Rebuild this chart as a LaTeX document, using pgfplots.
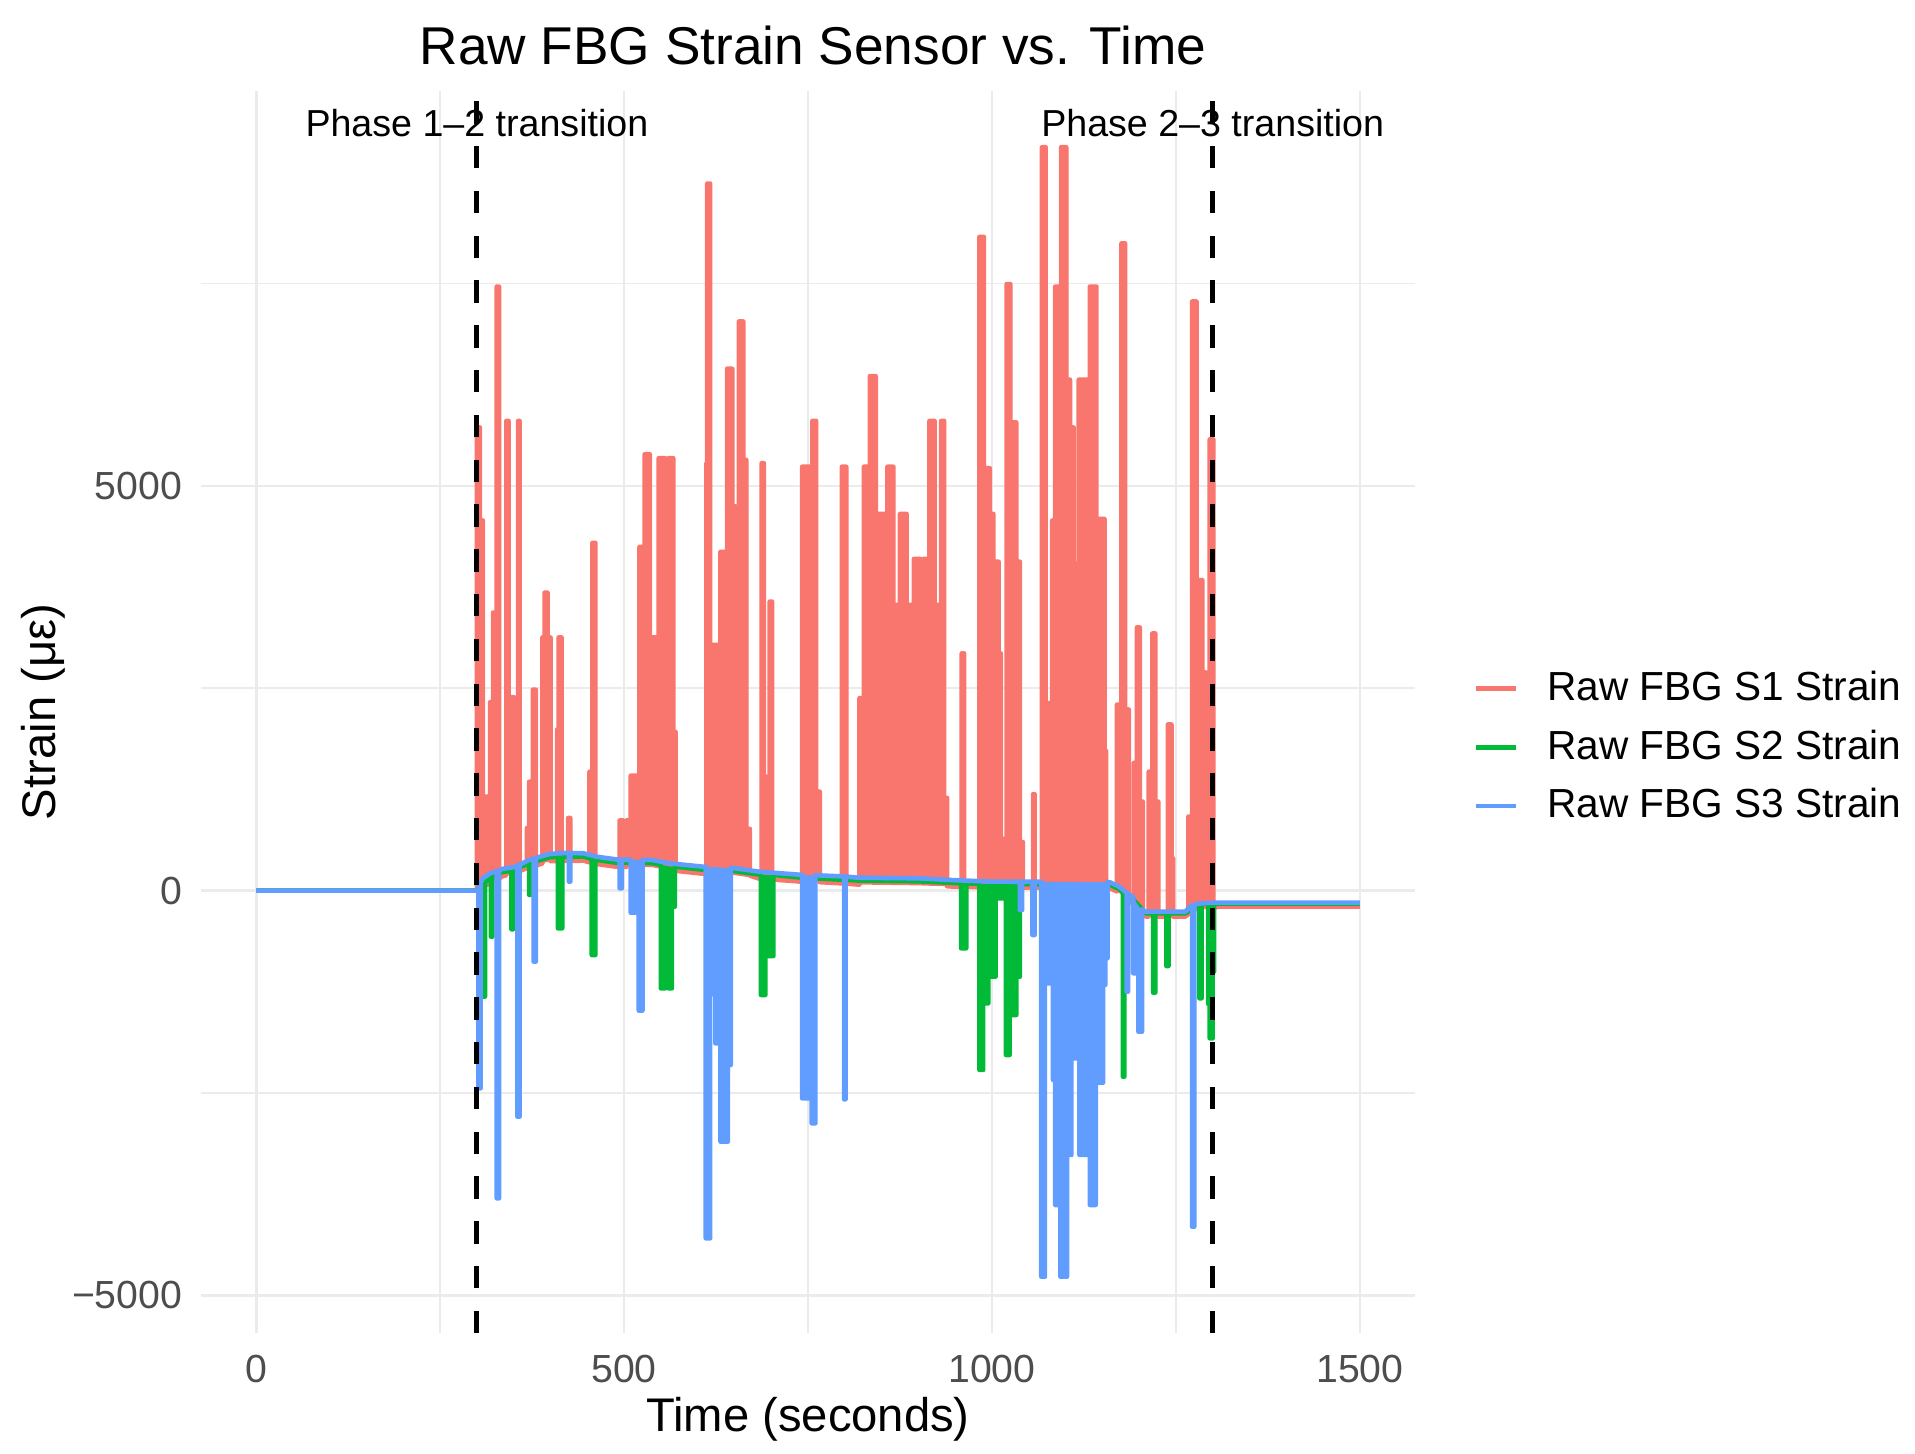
\documentclass[border=0pt]{standalone}
\usepackage{pgfplots}
\pgfplotsset{compat=1.18}
\usepackage{fontspec}
\setmainfont{Liberation Sans}
\definecolor{cSone}{HTML}{F8766D}
\definecolor{cStwo}{HTML}{00BA38}
\definecolor{cSthree}{HTML}{619CFF}
\definecolor{gridc}{HTML}{EBEBEB}
\definecolor{tickc}{HTML}{4D4D4D}
% ---------- S1 data ----------
\def\Rline{(0,0) (300,0)
(300,5722) (304,5722) (304,4573) (308,4573) (308,1161) (314,1161) (314,70)
(318,100) (318,2329) (322,2329) (322,3435) (323,3435) (323,2329) (327,2329) (327,7462) (330,7462) (330,150)
(335,180)
(340,190) (340,5802) (343,5802) (343,2390) (350,2390) (350,200)
(356,230) (356,5802) (358,5802) (358,240)
(368,280) (368,774) (371,774) (371,1345) (376,1345) (376,2483) (380,2483) (380,310)
(389,335) (389,3128) (392,3128) (392,3681) (396,3681) (396,3128) (400,3128) (400,365)
(409,367) (409,1990) (411,1990) (411,3128) (415,3128) (415,368)
(424,369) (424,897) (427,897) (427,369)
(445,370)
(453,350) (453,1468) (457,1468) (457,4296) (461,4296) (461,333)
(462,330)
(490,295)
(494,294) (494,866) (499,866) (499,294)
(503,293) (503,866) (509,866) (509,1419) (521,1419) (521,4247) (528,4247) (528,5390) (535,5390) (535,3128) (547,3128) (547,5341) (556,5341) (556,4204) (560,4204) (560,5341) (567,5341) (567,1960) (570,1960) (570,245)
(606,210)
(612,206) (612,5280) (613,5280) (613,8734) (617,8734) (617,3036) (627,3036) (627,1400) (631,1400) (631,4185) (640,4185) (640,6447) (647,6447) (647,4745) (652,4745) (652,2483) (656,2483) (656,7031) (662,7031) (662,5322) (666,5322) (666,762) (671,762) (671,185)
(683,150)
(687,147) (687,5280) (690,5280) (690,1410) (693,1410) (693,145)
(698,141) (698,3571) (701,3571) (701,139)
(742,110) (742,5236) (756,5236) (756,5802) (761,5802) (761,1222) (766,1222) (766,105)
(796,90) (796,5236) (802,5236) (802,87)
(818,75)
(820,75) (820,2378) (826,2378) (826,5236) (834,5236) (834,6355) (842,6355) (842,4653) (854,4653) (854,4099) (858,4099) (858,5236) (866,5236) (866,3528) (875,3528) (875,4653) (884,4653) (884,3528) (894,3528) (894,4099) (902,4099) (902,1235) (907,1235) (907,4099) (915,4099) (915,5802) (922,5802) (922,3528) (931,3528) (931,5802) (935,5802) (935,1145) (939,1145) (939,55)
(947,50)
(959,48) (959,2931) (962,2931) (962,47)
(983,44) (983,8076) (989,8076) (989,5218) (997,5218) (997,4653) (1002,4653) (1002,4063) (1009,4063) (1009,2931) (1012,2931) (1012,639) (1020,639) (1020,7493) (1025,7493) (1025,5784) (1033,5784) (1033,4063) (1038,4063) (1038,600) (1042,600) (1042,38)
(1056,37) (1056,1192) (1058,1192) (1058,37)
(1068,36) (1068,9183) (1073,9183) (1073,2317) (1082,2317) (1082,4573) (1086,4573) (1086,7462) (1094,7462) (1094,9183) (1101,9183) (1101,6312) (1106,6312) (1106,5722) (1111,5722) (1111,4038) (1118,4038) (1118,6312) (1133,6312) (1133,7462) (1142,7462) (1142,4591) (1153,4591) (1153,1726) (1155,1726) (1155,30)
(1160,30)
(1170,-10) (1170,2298) (1176,2298) (1176,7996) (1181,7996) (1181,2237) (1186,2237) (1186,-90)
(1191,-160)
(1193,-180) (1193,1579) (1197,1579) (1197,3251) (1201,3251) (1201,1100) (1205,1100) (1205,-280)
(1209,-320)
(1213,-320) (1213,1468) (1218,1468) (1218,3177) (1222,3177) (1222,1100) (1226,1100) (1226,-320)
(1239,-320) (1239,2052) (1244,2052) (1244,400) (1246,400) (1246,-320)
(1263,-320)
(1267,-290) (1267,915) (1272,915) (1272,7277) (1278,7277) (1278,3835) (1286,3835) (1286,2698) (1290,2698) (1290,500) (1296,500) (1296,5574) (1301,5574) (1301,-210)
(1310,-198)
(1500,-198)}
% S1 baseline, reversed (closes the filled area)
\def\Rbase{(1500,-198) (1310,-198) (1300,-210) (1281,-240) (1263,-320) (1209,-320) (1191,-160) (1173,-30) (1160,30) (1000,40) (947,50) (900,65) (818,75) (742,110) (683,150) (651,190) (606,210) (561,250) (538,290) (490,295) (462,330) (445,370) (400,365) (371,290) (350,200) (335,180) (318,100) (305,20) (300,0) (0,0)}
% ---------- S2 data ----------
\def\Gline{(0,0) (300,0) (303,40)
(306,80) (306,-568) (309,-568) (309,-1309) (311,-1309) (311,100)
(318,175) (319,178) (319,-568) (321,-568) (321,185)
(335,230)
(347,247) (347,-478) (349,-478) (349,249)
(371,340) (371,-53) (373,-53) (373,345)
(400,415)
(410,417) (410,-465) (416,-465) (416,418)
(445,420)
(456,395) (456,-795) (461,-795) (461,385)
(462,380)
(490,345)
(538,340)
(550,320) (550,-1207) (556,-1207) (556,-877) (560,-877) (560,-1207) (565,-1207) (565,-198) (569,-198) (569,297)
(606,260)
(651,240)
(683,200)
(686,198) (686,-1289) (692,-1289) (692,-807) (703,-807) (703,193)
(742,160)
(818,125)
(900,115)
(947,95)
(958,93) (958,-712) (965,-712) (965,90)
(983,85) (983,-2215) (988,-2215) (988,-1392) (995,-1392) (995,-1062) (1005,-1062) (1005,-95) (1019,-95) (1019,-2030) (1024,-2030) (1024,-1536) (1033,-1536) (1033,-1062) (1038,-1062) (1038,80)
(1160,75)
(1173,20)
(1178,-20) (1178,-2298) (1180,-2298) (1180,-40)
(1191,-100)
(1209,-280)
(1219,-280) (1219,-1260) (1222,-1260) (1222,-280)
(1237,-280) (1237,-931) (1240,-931) (1240,-280)
(1263,-280)
(1281,-170)
(1282,-168) (1282,-1330) (1285,-1330) (1285,-166)
(1294,-162) (1294,-1400) (1296,-1400) (1296,-1824) (1300,-1824) (1300,-1000) (1302,-1000) (1302,-160)
(1500,-160)}
\def\Gbase{(1500,-160) (1300,-160) (1281,-170) (1263,-280) (1209,-280) (1191,-100) (1173,20) (1160,75) (1000,80) (947,95) (900,115) (818,125) (742,160) (683,200) (651,240) (606,260) (561,300) (538,340) (490,345) (462,380) (445,420) (400,415) (371,340) (350,250) (335,230) (318,175) (308,110) (303,40) (300,0) (0,0)}
% ---------- S3 data ----------
\def\Bline{(0,0) (300,0)
(302,40) (302,-2442) (305,-2442) (305,100)
(308,150)
(318,214)
(327,240) (327,-3801) (330,-3801) (330,250)
(335,270)
(350,290)
(355,310) (355,-2792) (358,-2792) (358,320)
(371,379)
(377,395) (377,-877) (380,-877) (380,405)
(400,455)
(420,465)
(425,465) (425,111) (427,111) (427,465)
(445,461)
(462,420)
(490,385)
(494,383) (494,29) (497,29) (497,382)
(509,381) (509,-272) (520,-272) (520,-1482) (525,-1482) (525,380)
(538,379)
(561,338)
(606,297)
(611,293) (611,-4295) (617,-4295) (617,-1277) (624,-1277) (624,-1886) (631,-1886) (631,-3101) (641,-3101) (641,-2154) (645,-2154) (645,280)
(651,276)
(683,235)
(742,194) (742,-2565) (755,-2565) (755,-2874) (760,-2874) (760,190)
(799,175) (799,-2578) (801,-2578) (801,174)
(818,160)
(900,152)
(947,130)
(1000,111)
(1038,110) (1038,-239) (1041,-239) (1041,110)
(1055,110) (1055,-548) (1058,-548) (1058,110)
(1067,110) (1067,-4769) (1072,-4769) (1072,-1145) (1083,-1145) (1083,-2339) (1086,-2339) (1086,-3883) (1093,-3883) (1093,-4769) (1102,-4769) (1102,-3265) (1108,-3265) (1108,-2071) (1119,-2071) (1119,-3265) (1129,-3265) (1129,-2071) (1133,-2071) (1133,-3883) (1141,-3883) (1141,-2372) (1151,-2372) (1151,-1165) (1154,-1165) (1154,-836) (1157,-836) (1157,106)
(1160,105)
(1173,49)
(1182,-20)
(1183,-25) (1183,-1248) (1185,-1248) (1185,-35)
(1191,-74)
(1192,-85) (1192,-1021) (1199,-1021) (1199,-1742) (1204,-1742) (1204,-230)
(1209,-259)
(1263,-259)
(1270,-190)
(1272,-185) (1272,-4151) (1275,-4151) (1275,-175)
(1281,-160)
(1300,-148)
(1500,-148)}
\def\Bbase{(1500,-148) (1300,-148) (1281,-160) (1270,-190) (1263,-259) (1209,-259) (1200,-200) (1191,-74) (1182,-20) (1173,49) (1160,105) (1000,111) (947,130) (900,152) (818,160) (742,194) (683,235) (651,276) (606,297) (561,338) (538,379) (490,385) (462,420) (445,461) (420,465) (400,455) (371,379) (350,290) (335,270) (318,214) (308,150) (305,100) (302,40) (300,0) (0,0)}
\begin{document}
\begin{tikzpicture}
\useasboundingbox (0,0) rectangle (478.75pt,363.5pt);
\begin{axis}[
  at={(50.25pt,30.2pt)}, anchor=south west,
  scale only axis, width=303.5pt, height=310.6pt,
  xmin=-75, xmax=1575, ymin=-5467, ymax=9881,
  scaled ticks=false,
  xtick={0,500,1000,1500}, xticklabels={0,500,1000,1500},
  ytick={-5000,0,5000}, yticklabels={−5000,0,5000},
  minor xtick={250,750,1250}, minor ytick={-2500,2500,7500},
  grid=both,
  major grid style={draw=gridc, line width=0.67pt},
  minor grid style={draw=gridc, line width=0.4pt},
  axis line style={draw=none},
  major tick length=0pt, minor tick length=0pt,
  tick style={draw=none},
  xticklabel style={font=\fontsize{9.8}{11}\selectfont, text=tickc, anchor=north, inner sep=0pt, yshift=-5.2pt},
  yticklabel style={font=\fontsize{9.8}{11}\selectfont, text=tickc, anchor=east, inner sep=0pt, xshift=-4.5pt},
  legend style={at={(1.0485,0.533)}, anchor=north west, draw=none, fill=none, inner sep=0pt, outer sep=0pt, row sep=5.8pt, column sep=7.2pt, font=\fontsize{10.15}{12}\selectfont, nodes={inner sep=0pt}},
  legend cell align=left,
  legend image code/.code={\draw[#1] (0pt,0pt) -- (10pt,0pt);},
  every axis plot/.append style={line width=1.15pt, line join=round},
]
% S1
\edef\tmp{\noexpand\addplot[fill=cSone, draw=none, forget plot] coordinates {\Rline\space\Rbase};}\tmp
\edef\tmp{\noexpand\addplot[cSone] coordinates {\Rline};}\tmp
\addlegendentry{Raw FBG S1 Strain}
% S2
\edef\tmp{\noexpand\addplot[fill=cStwo, draw=none, forget plot] coordinates {\Gline\space\Gbase};}\tmp
\edef\tmp{\noexpand\addplot[cStwo] coordinates {\Gline};}\tmp
\addlegendentry{Raw FBG S2 Strain}
% S3
\edef\tmp{\noexpand\addplot[fill=cSthree, draw=none, forget plot] coordinates {\Bline\space\Bbase};}\tmp
\edef\tmp{\noexpand\addplot[cSthree] coordinates {\Bline};}\tmp
\addlegendentry{Raw FBG S3 Strain}
% phase lines
\addplot[black, line width=1.25pt, dash pattern=on 5.6pt off 5.6pt, forget plot] coordinates {(300,-5467) (300,9881)};
\addplot[black, line width=1.25pt, dash pattern=on 5.6pt off 5.6pt, forget plot] coordinates {(1300,-5467) (1300,9881)};
\node[anchor=base, font=\fontsize{9.4}{11}\selectfont] at (axis cs:300,9312) {Phase 1–2 transition};
\node[anchor=base, font=\fontsize{9.4}{11}\selectfont] at (axis cs:1300,9312) {Phase 2–3 transition};
\end{axis}
\node[anchor=base, font=\fontsize{13.3}{15}\selectfont] at (203.25pt,347.25pt) {Raw FBG Strain Sensor vs. Time};
\node[anchor=base, font=\fontsize{11.8}{13}\selectfont] at (202pt,5.5pt) {Time (seconds)};
\node[anchor=base, rotate=90, font=\fontsize{11.8}{13}\selectfont] at (13.75pt,185.5pt) {Strain (με)};
\end{tikzpicture}
\end{document}
